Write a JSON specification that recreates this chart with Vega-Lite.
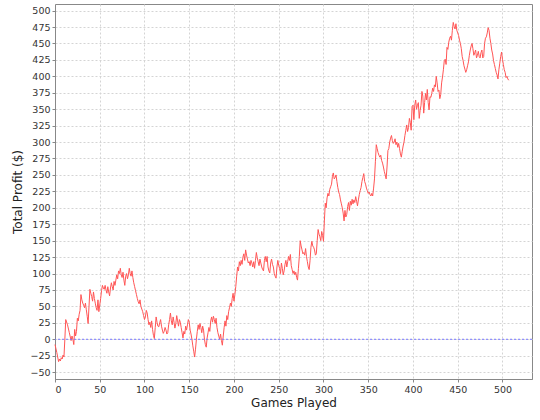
{
"$schema": "https://vega.github.io/schema/vega-lite/v6.json",
"width": 477, "height": 375,
"autosize": "none",
"padding": {"left": 55, "top": 4, "right": 8, "bottom": 41},
"background": "white",
"config": {
  "view": {"stroke": "#888888", "strokeWidth": 1},
  "axis": {"labelFont": "DejaVu Sans", "labelFontSize": 9.5, "labelColor": "#333333", "labelOverlap": false, "titleFont": "DejaVu Sans", "titleFontSize": 12, "titleFontWeight": "normal", "titleColor": "#222222", "domainColor": "#888888", "tickColor": "#888888", "tickSize": 3, "gridColor": "#d4d4d4", "gridDash": [2, 2], "gridWidth": 1}
},
"layer": [
 {
  "data": {"values": [
{"g":0,"p":-8},{"g":2,"p":-20},{"g":4,"p":-34},{"g":5,"p":-30},{"g":6,"p":-33},{"g":7,"p":-28},{"g":8,"p":-30},{"g":9,"p":-24},{"g":10,"p":-27},{"g":11,"p":0},{"g":12,"p":30},{"g":14,"p":22},{"g":16,"p":10},{"g":18,"p":-2},{"g":19,"p":5},{"g":20,"p":0},{"g":21,"p":-8},{"g":22,"p":15},{"g":23,"p":5},{"g":24,"p":12},{"g":25,"p":32},{"g":26,"p":28},{"g":27,"p":38},{"g":28,"p":44},{"g":29,"p":68},{"g":30,"p":60},{"g":31,"p":55},{"g":32,"p":52},{"g":33,"p":48},{"g":34,"p":55},{"g":35,"p":45},{"g":36,"p":35},{"g":37,"p":24},{"g":38,"p":50},{"g":39,"p":76},{"g":40,"p":70},{"g":41,"p":65},{"g":42,"p":58},{"g":43,"p":72},{"g":44,"p":62},{"g":45,"p":55},{"g":46,"p":48},{"g":47,"p":44},{"g":48,"p":60},{"g":49,"p":42},{"g":50,"p":52},{"g":51,"p":62},{"g":52,"p":74},{"g":53,"p":82},{"g":54,"p":78},{"g":55,"p":76},{"g":56,"p":82},{"g":57,"p":75},{"g":58,"p":70},{"g":59,"p":80},{"g":60,"p":72},{"g":61,"p":66},{"g":62,"p":78},{"g":63,"p":86},{"g":64,"p":80},{"g":65,"p":75},{"g":66,"p":88},{"g":67,"p":82},{"g":68,"p":90},{"g":69,"p":98},{"g":70,"p":92},{"g":71,"p":104},{"g":72,"p":100},{"g":73,"p":108},{"g":74,"p":98},{"g":75,"p":94},{"g":76,"p":102},{"g":77,"p":90},{"g":78,"p":82},{"g":79,"p":96},{"g":80,"p":100},{"g":81,"p":92},{"g":82,"p":98},{"g":83,"p":108},{"g":84,"p":100},{"g":85,"p":96},{"g":86,"p":104},{"g":87,"p":94},{"g":88,"p":86},{"g":89,"p":80},{"g":90,"p":74},{"g":91,"p":68},{"g":92,"p":62},{"g":93,"p":57},{"g":94,"p":54},{"g":95,"p":60},{"g":96,"p":50},{"g":97,"p":46},{"g":98,"p":42},{"g":99,"p":36},{"g":100,"p":30},{"g":101,"p":34},{"g":102,"p":44},{"g":103,"p":40},{"g":104,"p":30},{"g":105,"p":22},{"g":106,"p":26},{"g":107,"p":18},{"g":108,"p":28},{"g":109,"p":15},{"g":110,"p":6},{"g":111,"p":1},{"g":112,"p":18},{"g":113,"p":34},{"g":114,"p":26},{"g":115,"p":20},
{"g":116,"p":19},{"g":117,"p":25},{"g":118,"p":30},{"g":119,"p":20},{"g":120,"p":14},{"g":121,"p":9},{"g":122,"p":12},{"g":123,"p":18},{"g":124,"p":14},{"g":125,"p":8},{"g":126,"p":10},{"g":127,"p":22},{"g":128,"p":30},{"g":129,"p":40},{"g":130,"p":28},{"g":131,"p":22},{"g":132,"p":34},{"g":133,"p":26},{"g":134,"p":17},{"g":135,"p":24},{"g":136,"p":36},{"g":137,"p":28},{"g":138,"p":20},{"g":139,"p":30},{"g":140,"p":26},{"g":141,"p":18},{"g":142,"p":10},{"g":143,"p":2},{"g":144,"p":12},{"g":145,"p":8},{"g":146,"p":20},{"g":147,"p":14},{"g":148,"p":22},{"g":149,"p":30},{"g":150,"p":26},{"g":151,"p":14},{"g":152,"p":8},{"g":153,"p":0},{"g":154,"p":-10},{"g":155,"p":-18},{"g":156,"p":-27},{"g":157,"p":-15},{"g":158,"p":0},{"g":159,"p":12},{"g":160,"p":22},{"g":161,"p":15},{"g":162,"p":24},{"g":163,"p":18},{"g":164,"p":10},{"g":165,"p":20},{"g":166,"p":14},{"g":167,"p":0},{"g":168,"p":-8},{"g":169,"p":-12},{"g":170,"p":2},{"g":171,"p":10},{"g":172,"p":18},{"g":173,"p":12},{"g":174,"p":28},{"g":175,"p":34},{"g":176,"p":26},{"g":177,"p":35},{"g":178,"p":30},{"g":179,"p":24},{"g":180,"p":32},{"g":181,"p":18},{"g":182,"p":10},{"g":183,"p":5},{"g":184,"p":0},{"g":185,"p":8},{"g":186,"p":-2},{"g":187,"p":-9},{"g":188,"p":5},{"g":189,"p":18},{"g":190,"p":28},{"g":191,"p":20},{"g":192,"p":36},{"g":193,"p":30},{"g":194,"p":42},{"g":195,"p":48},{"g":196,"p":55},{"g":197,"p":50},{"g":198,"p":62},{"g":199,"p":70},{"g":200,"p":58},{"g":201,"p":68},{"g":202,"p":80},{"g":203,"p":96},{"g":204,"p":110},{"g":205,"p":104},{"g":206,"p":118},{"g":207,"p":112},{"g":208,"p":120},{"g":209,"p":114},{"g":210,"p":125},{"g":211,"p":130},{"g":212,"p":120},{"g":213,"p":136},{"g":214,"p":128},{"g":215,"p":122},{"g":216,"p":116},{"g":217,"p":118},{"g":218,"p":112},{"g":219,"p":120},{"g":220,"p":116},{"g":221,"p":110},{"g":222,"p":118},{"g":223,"p":108},{"g":224,"p":120},{"g":225,"p":132},{"g":226,"p":124},{"g":227,"p":118},
{"g":228,"p":112},{"g":229,"p":122},{"g":230,"p":116},{"g":231,"p":110},{"g":232,"p":106},{"g":233,"p":104},{"g":234,"p":120},{"g":235,"p":126},{"g":236,"p":118},{"g":237,"p":126},{"g":238,"p":110},{"g":239,"p":104},{"g":240,"p":101},{"g":241,"p":116},{"g":242,"p":122},{"g":243,"p":114},{"g":244,"p":110},{"g":245,"p":100},{"g":246,"p":96},{"g":247,"p":93},{"g":248,"p":110},{"g":249,"p":120},{"g":250,"p":112},{"g":251,"p":108},{"g":252,"p":100},{"g":253,"p":116},{"g":254,"p":108},{"g":255,"p":98},{"g":256,"p":104},{"g":257,"p":114},{"g":258,"p":120},{"g":259,"p":110},{"g":260,"p":118},{"g":261,"p":126},{"g":262,"p":120},{"g":263,"p":129},{"g":264,"p":112},{"g":265,"p":106},{"g":266,"p":100},{"g":267,"p":104},{"g":268,"p":98},{"g":269,"p":102},{"g":270,"p":94},{"g":271,"p":90},{"g":272,"p":108},{"g":273,"p":126},{"g":274,"p":150},{"g":275,"p":142},{"g":276,"p":136},{"g":277,"p":130},{"g":278,"p":132},{"g":279,"p":128},{"g":280,"p":138},{"g":281,"p":126},{"g":282,"p":118},{"g":283,"p":110},{"g":284,"p":106},{"g":285,"p":120},{"g":286,"p":140},{"g":287,"p":149},{"g":288,"p":142},{"g":289,"p":140},{"g":290,"p":136},{"g":291,"p":128},{"g":292,"p":130},{"g":293,"p":150},{"g":294,"p":167},{"g":295,"p":160},{"g":296,"p":156},{"g":297,"p":150},{"g":298,"p":164},{"g":299,"p":158},{"g":300,"p":149},{"g":301,"p":180},{"g":302,"p":207},{"g":303,"p":200},{"g":304,"p":215},{"g":305,"p":222},{"g":306,"p":218},{"g":307,"p":228},{"g":308,"p":232},{"g":309,"p":236},{"g":310,"p":248},{"g":311,"p":253},{"g":312,"p":244},{"g":313,"p":246},{"g":314,"p":250},{"g":315,"p":240},{"g":316,"p":231},{"g":317,"p":224},{"g":318,"p":220},{"g":319,"p":212},{"g":320,"p":206},{"g":321,"p":200},{"g":322,"p":192},{"g":323,"p":180},{"g":324,"p":196},{"g":325,"p":186},{"g":326,"p":190},{"g":327,"p":202},{"g":328,"p":208},{"g":329,"p":196},{"g":330,"p":210},{"g":331,"p":204},{"g":332,"p":213},{"g":333,"p":206},{"g":334,"p":212},{"g":335,"p":208},{"g":336,"p":217},{"g":337,"p":210},{"g":338,"p":203},{"g":339,"p":212},{"g":340,"p":220},{"g":341,"p":226},{"g":342,"p":231},{"g":343,"p":240},{"g":344,"p":246},{"g":345,"p":252},{"g":346,"p":240},{"g":347,"p":236},{"g":348,"p":230},{"g":349,"p":226},{"g":350,"p":222},{"g":351,"p":224},{"g":352,"p":220},{"g":353,"p":218},{"g":354,"p":222},{"g":355,"p":218},{"g":356,"p":230},{"g":357,"p":244},{"g":358,"p":270},{"g":359,"p":296},{"g":360,"p":290},{"g":361,"p":284},{"g":362,"p":280},{"g":363,"p":277},{"g":364,"p":280},{"g":365,"p":272},{"g":366,"p":268},{"g":367,"p":262},{"g":368,"p":255},{"g":369,"p":250},{"g":370,"p":244},{"g":371,"p":262},{"g":372,"p":287},{"g":373,"p":290},{"g":374,"p":300},{"g":375,"p":306},{"g":376,"p":310},{"g":377,"p":302},{"g":378,"p":298},{"g":379,"p":300},{"g":380,"p":305},{"g":381,"p":296},{"g":382,"p":300},{"g":383,"p":292},{"g":384,"p":298},{"g":385,"p":290},{"g":386,"p":282},{"g":387,"p":277},{"g":388,"p":286},{"g":389,"p":294},{"g":390,"p":300},{"g":391,"p":310},{"g":392,"p":318},{"g":393,"p":326},{"g":394,"p":316},{"g":395,"p":322},{"g":396,"p":336},{"g":397,"p":330},{"g":398,"p":318},{"g":399,"p":354},{"g":400,"p":356},{"g":401,"p":334},{"g":402,"p":356},{"g":403,"p":364},{"g":404,"p":350},{"g":405,"p":356},{"g":406,"p":360},{"g":407,"p":336},{"g":408,"p":348},{"g":409,"p":356},{"g":410,"p":377},{"g":411,"p":370},{"g":412,"p":344},{"g":413,"p":360},{"g":414,"p":374},{"g":415,"p":364},{"g":416,"p":380},{"g":417,"p":360},{"g":418,"p":349},{"g":419,"p":369},{"g":420,"p":368},{"g":421,"p":374},{"g":422,"p":382},{"g":423,"p":377},{"g":424,"p":387},{"g":425,"p":384},{"g":426,"p":400},{"g":427,"p":390},{"g":428,"p":377},{"g":429,"p":379},{"g":430,"p":366},{"g":431,"p":372},{"g":432,"p":390},{"g":433,"p":399},{"g":434,"p":410},{"g":435,"p":424},{"g":436,"p":426},{"g":437,"p":418},{"g":438,"p":444},{"g":439,"p":441},{"g":440,"p":452},{"g":441,"p":458},{"g":442,"p":461},{"g":443,"p":455},{"g":444,"p":470},{"g":445,"p":482},{"g":446,"p":476},{"g":447,"p":472},{"g":448,"p":480},{"g":449,"p":470},{"g":450,"p":466},{"g":451,"p":462},{"g":452,"p":455},{"g":453,"p":450},{"g":454,"p":442},{"g":455,"p":430},{"g":456,"p":424},{"g":457,"p":416},{"g":458,"p":411},{"g":459,"p":406},{"g":460,"p":410},{"g":461,"p":416},{"g":462,"p":422},{"g":463,"p":432},{"g":464,"p":440},{"g":465,"p":446},{"g":466,"p":450},{"g":467,"p":442},{"g":468,"p":432},{"g":469,"p":436},{"g":470,"p":440},{"g":471,"p":428},{"g":472,"p":432},{"g":473,"p":438},{"g":474,"p":430},{"g":475,"p":428},{"g":476,"p":436},{"g":477,"p":440},{"g":478,"p":428},{"g":479,"p":430},{"g":480,"p":450},{"g":481,"p":458},{"g":482,"p":460},{"g":483,"p":466},{"g":484,"p":474},{"g":485,"p":470},{"g":486,"p":458},{"g":487,"p":450},{"g":488,"p":440},{"g":489,"p":434},{"g":490,"p":424},{"g":491,"p":418},{"g":492,"p":412},{"g":493,"p":406},{"g":494,"p":402},{"g":495,"p":396},{"g":496,"p":410},{"g":497,"p":420},{"g":498,"p":430},{"g":499,"p":437},{"g":500,"p":426},{"g":501,"p":418},{"g":502,"p":410},{"g":503,"p":406},{"g":504,"p":398},{"g":505,"p":400},{"g":506,"p":396},{"g":507,"p":394}
  ]},
  "mark": {"type": "line", "color": "#ff5555", "strokeWidth": 1},
  "encoding": {
    "x": {"field": "g", "type": "quantitative", "scale": {"domain": [0, 533], "nice": false, "zero": false},
          "axis": {"title": "Games Played", "values": [0,50,100,150,200,250,300,350,400,450,500], "format": "d", "titlePadding": 4, "labelPadding": 2}},
    "y": {"field": "p", "type": "quantitative", "scale": {"domain": [-60.4, 510], "nice": false, "zero": false},
          "axis": {"title": "Total Profit ($)", "values": [-50,-25,0,25,50,75,100,125,150,175,200,225,250,275,300,325,350,375,400,425,450,475,500], "format": "d", "titlePadding": 5, "labelPadding": 2}}
  }
 },
 {
  "data": {"values": [{"z": 0}]},
  "mark": {"type": "rule", "color": "#7777ff", "strokeDash": [2, 2], "strokeWidth": 1},
  "encoding": {"y": {"field": "z", "type": "quantitative", "scale": {"domain": [-60.4, 510], "nice": false, "zero": false},
          "axis": {"title": "Total Profit ($)", "values": [-50,-25,0,25,50,75,100,125,150,175,200,225,250,275,300,325,350,375,400,425,450,475,500], "format": "d", "titlePadding": 5, "labelPadding": 2}}}
 }
]
}
